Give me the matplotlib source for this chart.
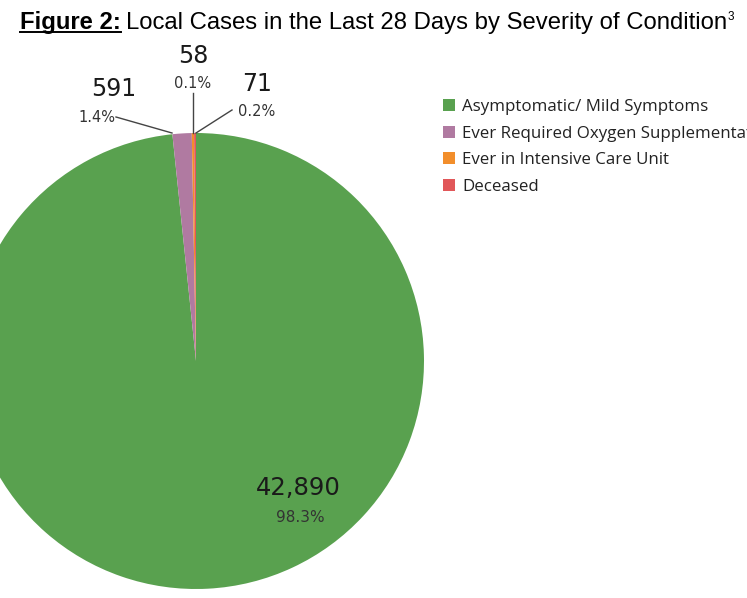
import matplotlib
matplotlib.use("Agg")
import matplotlib.pyplot as plt
from matplotlib.patches import Patch

# Data
categories = ["Asymptomatic/ Mild Symptoms", "Ever Required Oxygen Supplementation",
              "Ever in Intensive Care Unit", "Deceased"]
cases = [42890, 591, 71, 58]
pct_labels = ["98.3%", "1.4%", "0.2%", "0.1%"]
colors = ["#59A14F", "#B07AA1", "#F28E2B", "#E15759"]

W, H = 747, 598
fig = plt.figure(figsize=(W / 100, H / 100), dpi=100)
ax = fig.add_axes([0, 0, 1, 1])

# pie in pixel coordinates (y up)
cx, cy, r = 196, H - 361, 228
wedges, _ = ax.pie(cases, colors=colors, startangle=90, counterclock=False,
                   center=(cx, cy), radius=r,
                   wedgeprops=dict(linewidth=0))
ax.set_xlim(0, W)
ax.set_ylim(0, H)
ax.set_aspect("equal")
ax.axis("off")

num_font = dict(family="DejaVu Sans", color="#1a1a1a")
pct_font = dict(family="DejaVu Sans", color="#333333")

# big slice label
ax.text(298, H - 488, f"{cases[0]:,}", fontsize=17.5, ha="center", va="center", **num_font)
ax.text(300, H - 517, pct_labels[0], fontsize=11, ha="center", va="center", **pct_font)

# small slice labels with leader lines
ax.text(114, H - 89, f"{cases[1]:,}", fontsize=17, ha="center", va="center", **num_font)
ax.text(97, H - 117, pct_labels[1], fontsize=10.5, ha="center", va="center", **pct_font)
ax.plot([116, 172], [H - 117, H - 133], color="#444444", lw=1)

ax.text(193, H - 56, f"{cases[3]:,}", fontsize=17, ha="center", va="center", **num_font)
ax.text(193, H - 84, pct_labels[3], fontsize=10.5, ha="center", va="center", **pct_font)
ax.plot([193, 193], [H - 93, H - 133], color="#444444", lw=1)

ax.text(257, H - 84, f"{cases[2]:,}", fontsize=17, ha="center", va="center", **num_font)
ax.text(257, H - 111, pct_labels[2], fontsize=10.5, ha="center", va="center", **pct_font)
ax.plot([232, 196], [H - 110, H - 133], color="#444444", lw=1)

# legend (the long label runs off the right edge, as in the original)
handles = [Patch(facecolor=c, edgecolor="none") for c in colors]
leg = ax.legend(handles, categories, loc="upper left", bbox_to_anchor=(443 / W, 1 - 99 / H),
                frameon=False, prop=dict(family="Open Sans", size=12.2),
                handlelength=0.72, handleheight=0.72, handletextpad=0.4,
                labelspacing=0.63, borderpad=0, borderaxespad=0)
for t in leg.get_texts():
    t.set_color("#222222")

# title, "Figure 2:" bold + underlined
title_kw = dict(family="Liberation Sans", fontsize=17.2, va="baseline")
t1 = fig.text(20 / W, 1 - 29 / H, "Figure 2:", fontweight="bold", **title_kw)
fig.canvas.draw()
bb = t1.get_window_extent()
t2 = fig.text((bb.x1 + 5) / W, 1 - 29 / H,
              "Local Cases in the Last 28 Days by Severity of Condition", **title_kw)
fig.canvas.draw()
bb2 = t2.get_window_extent()
fig.text((bb2.x1 + 1) / W, 1 - 20 / H, "3", family="Liberation Sans", fontsize=8.5, va="baseline")
fig.add_artist(plt.Line2D([bb.x0 / W, bb.x1 / W], [1 - 32 / H, 1 - 32 / H],
                          color="black", lw=1.4))

fig.savefig("out.png", dpi=100)
